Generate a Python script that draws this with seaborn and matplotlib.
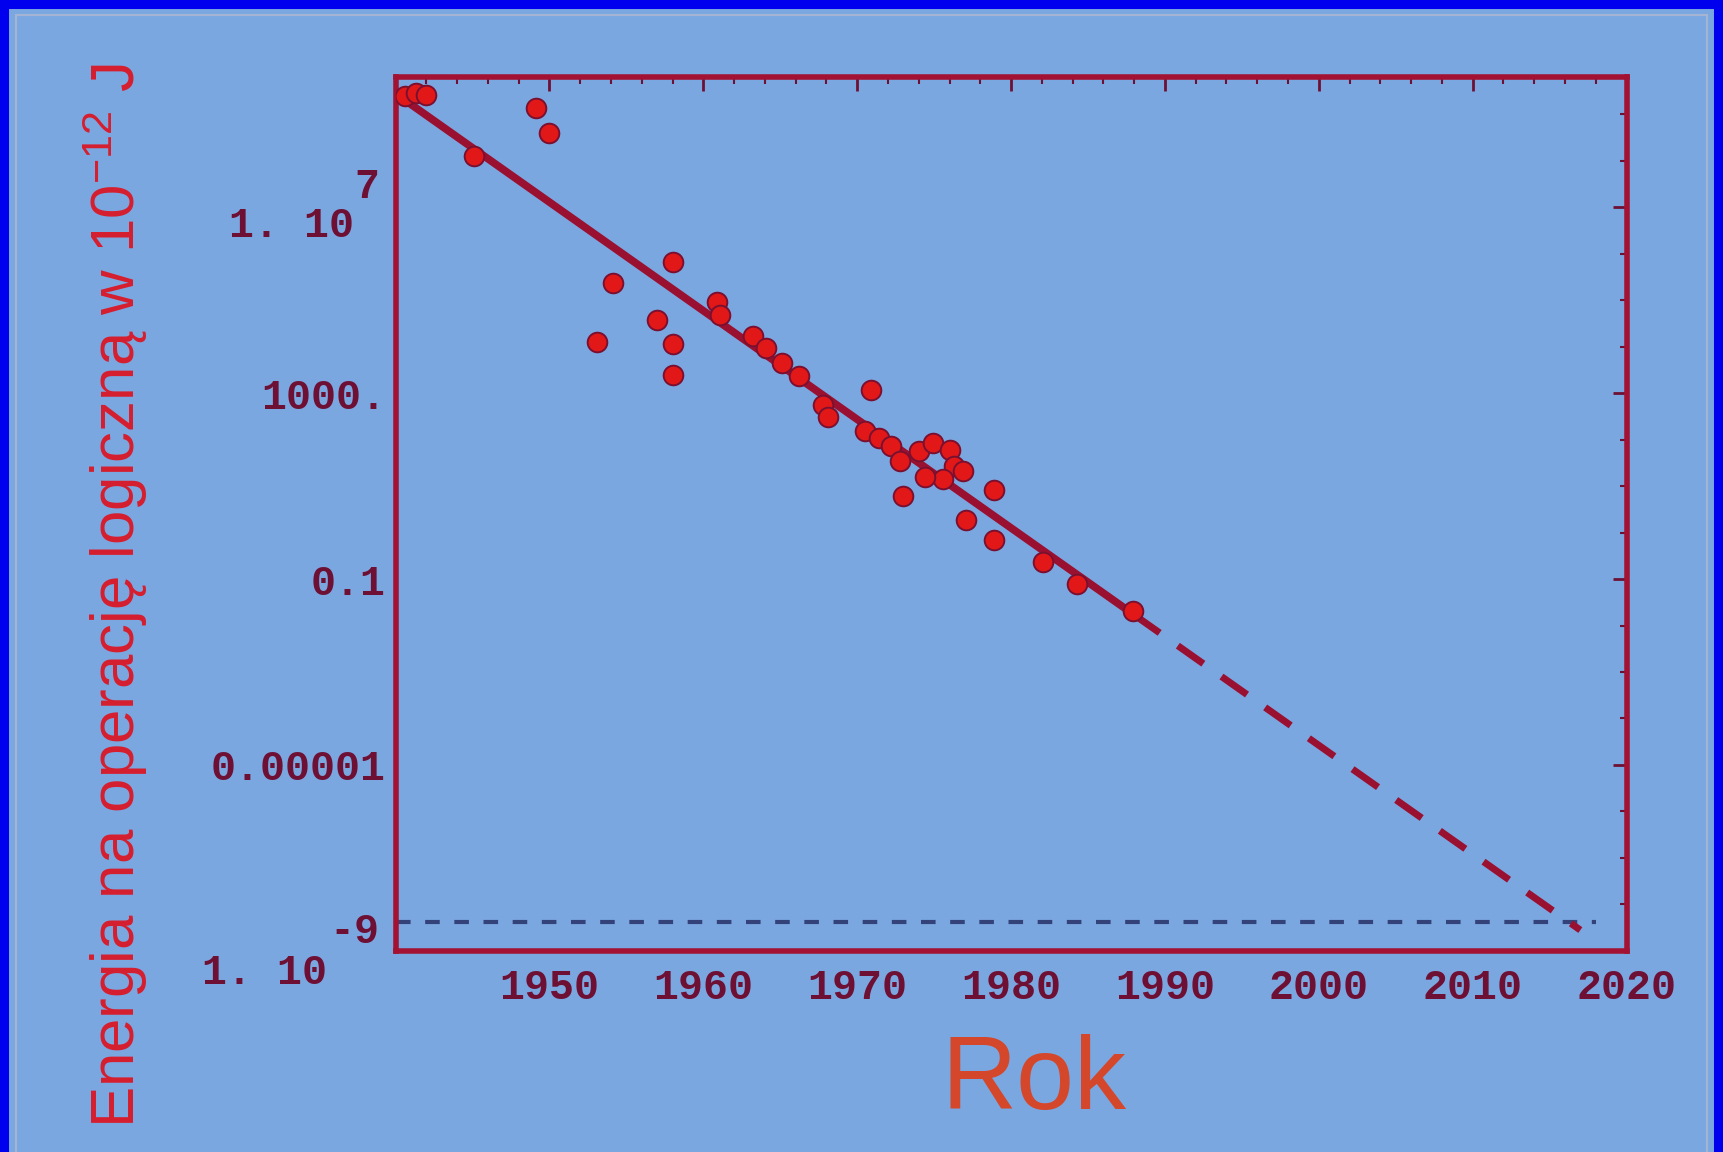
import numpy as np
import pandas as pd
import matplotlib
matplotlib.use("Agg")
import matplotlib.pyplot as plt
import matplotlib.transforms as mtransforms
from matplotlib.lines import Line2D
from matplotlib.ticker import MultipleLocator, LogLocator, NullFormatter
import seaborn as sns

# ---------------- data ----------------
years = [1940.6, 1941.3, 1942.0, 1945.1, 1949.1, 1950.0, 1954.1, 1953.1,
         1957.0, 1958.0, 1958.0, 1958.0, 1960.9, 1961.1, 1963.2, 1964.1,
         1965.1, 1966.2, 1967.8, 1968.1, 1970.9, 1970.5, 1971.4, 1972.2,
         1972.8, 1973.0, 1974.0, 1974.9, 1976.0, 1976.3, 1975.6, 1974.4,
         1976.9, 1977.1, 1978.9, 1978.9, 1982.1, 1984.3, 1987.9]
energy = [2.5e9, 2.9e9, 2.6e9, 1.3e8, 1.35e9, 3.9e8, 2.4e5, 1.26e4,
          3.7e4, 6.6e5, 1.17e4, 2.5e3, 9.3e4, 4.9e4, 1.7e4, 9.5e3,
          4.5e3, 2.3e3, 560, 300, 1150, 150, 110, 74,
          35, 6.2, 58, 83, 60, 27, 14, 15.5,
          21, 1.9, 8.1, 0.69, 0.23, 0.079, 0.021]

trend_years = [1940, 1988]
trend_energy = [2.8e9, 1.7e-2]
extrap_years = [1988, 2017]
extrap_energy = [1.7e-2, 2.8e-9]
kt_years = [1940, 2018]
kt_energy = [4.1e-9, 4.1e-9]

xtick_vals = [1950, 1960, 1970, 1980, 1990, 2000, 2010, 2020]
xtick_labels = ["1950", "1960", "1970", "1980", "1990", "2000", "2010", "2020"]
ytick_vals = [1e-9, 1e-5, 1e-1, 1e3, 1e7]
ytick_labels = ["1. 10", "0.00001", "0.1", "1000.", "1. 10"]
ytick_exps = ["-9", "", "", "", "7"]

x_label = "Rok"
y_label = "Energia na operację logiczną w 10$^{-12}$ J"

# ---------------- style ----------------
BG = "#7BA7E1"
FRAME = "#A31232"
LINE = "#9A1030"
TICK = "#6E1034"
PT_FILL = "#E21818"
PT_EDGE = "#7A1030"

sns.set_theme(style="white")
plt.rcParams["mathtext.fontset"] = "custom"
plt.rcParams["mathtext.rm"] = "Liberation Sans"
plt.rcParams["mathtext.it"] = "Liberation Sans"
plt.rcParams["mathtext.default"] = "regular"

fig = plt.figure(figsize=(17.23, 11.52), dpi=100)
fig.patch.set_facecolor(BG)
ax = fig.add_axes([0.2296, 0.1746, 0.7144, 0.7584])
ax.set_facecolor(BG)
ax.set_yscale("log")

sns.lineplot(x=kt_years, y=kt_energy, ax=ax, color="#34427A", lw=3,
             linestyle=(0, (3.5, 3.5)), zorder=2, legend=False)
sns.lineplot(x=extrap_years, y=extrap_energy, ax=ax, color=LINE, lw=5,
             linestyle=(0, (4.5, 3.2)), zorder=3, legend=False)
sns.lineplot(x=trend_years, y=trend_energy, ax=ax, color=LINE, lw=5.5,
             zorder=3, legend=False)
sns.scatterplot(x=years, y=energy, ax=ax, s=200, color=PT_FILL,
                edgecolor=PT_EDGE, linewidth=1.4, zorder=4, legend=False)

ax.set_xlim(1940, 2020)
ax.set_ylim(1e-9, 6.3e9)

for s in ax.spines.values():
    s.set_color(FRAME)
    s.set_linewidth(4)
    s.set_visible(True)

tick_font = dict(family=["Liberation Mono", "DejaVu Sans Mono"],
                 fontweight="bold", fontsize=30, color=TICK)

ax.set_xticks(xtick_vals, xtick_labels, **tick_font)
ax.xaxis.set_minor_locator(MultipleLocator(2))
ax.set_yticks(ytick_vals, [l if not e else "" for l, e in zip(ytick_labels, ytick_exps)],
              **tick_font)
ax.yaxis.set_minor_locator(LogLocator(base=10, subs=[1.0], numticks=60))
ax.yaxis.set_minor_formatter(NullFormatter())
ax.tick_params(axis="both", which="major", direction="in", length=10, width=2,
               color=TICK, top=True, right=True)
ax.tick_params(axis="both", which="minor", direction="in", length=5, width=1.5,
               color=TICK, top=True, right=True)
ax.tick_params(axis="x", which="major", pad=12)
ax.tick_params(axis="y", which="major", pad=7)
ax.set_xlabel("")
ax.set_ylabel("")

# Mathematica-style "1. 10^n" labels
trans = mtransforms.blended_transform_factory(ax.transAxes, ax.transData)
exp_offsets = {"7": ((-0.42, -0.19), (-0.165, 0.20)),
               "-9": ((-0.69, -0.22), (-0.165, 0.19))}
for v, lab, ex in zip(ytick_vals, ytick_labels, ytick_exps):
    if not ex:
        continue
    (bx, by), (ex_x, ex_y) = exp_offsets[ex]
    ax.text(0, v, lab, ha="right", va="center", clip_on=False,
            transform=trans + mtransforms.ScaledTranslation(bx, by, fig.dpi_scale_trans),
            **tick_font)
    ax.text(0, v, ex, ha="right", va="center", clip_on=False,
            transform=trans + mtransforms.ScaledTranslation(ex_x, ex_y, fig.dpi_scale_trans),
            **tick_font)

fig.text(0.067, 0.483, y_label, rotation=90, ha="center", va="center",
         fontsize=44.5, color="#D61E2E",
         family=["Liberation Sans", "DejaVu Sans"])
fig.text(0.6, 0.06, x_label, ha="center", va="center", fontsize=75,
         color="#D4472A", family=["Liberation Sans", "DejaVu Sans"])

# blue outer border
for xs, ys in [([0, 0], [0, 1]), ([0, 1], [1, 1]), ([1, 1], [0, 1])]:
    fig.add_artist(Line2D(xs, ys, transform=fig.transFigure, color="#0000EE", lw=13))
fig.add_artist(plt.Rectangle((0.009, -0.01), 0.982, 0.997, transform=fig.transFigure,
                             fill=False, edgecolor="#A4B4D2", lw=1.5))

fig.savefig("out.png", dpi=100, facecolor=fig.get_facecolor())
